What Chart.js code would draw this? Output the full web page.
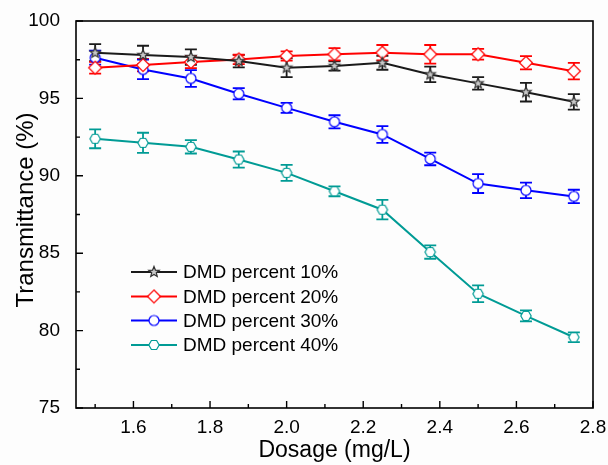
<!DOCTYPE html>
<html>
<head>
<meta charset="utf-8">
<script src="https://cdn.jsdelivr.net/npm/chart.js@4.4.1/dist/chart.umd.min.js"></script>
<style>
  body { margin: 0; background: #fdfdfd; }
  canvas { display: block; }
</style>
</head>
<body>
<canvas id="transChart" width="608" height="465"></canvas>
<script>
// Dosage (mg/L) and transmittance (%) with standard deviations
const dosage = [1.5, 1.625, 1.75, 1.875, 2.0, 2.125, 2.25, 2.375, 2.5, 2.625, 2.75];

const dmd10 = [97.95, 97.8, 97.67, 97.41, 96.98, 97.1, 97.3, 96.55, 95.97, 95.4, 94.78];
const err10 = [0.55, 0.6, 0.5, 0.4, 0.6, 0.3, 0.45, 0.5, 0.4, 0.6, 0.5];

const dmd20 = [96.98, 97.15, 97.35, 97.52, 97.74, 97.85, 97.95, 97.85, 97.85, 97.3, 96.76];
const err20 = [0.38, 0.4, 0.4, 0.3, 0.3, 0.4, 0.5, 0.6, 0.35, 0.43, 0.53];

const dmd30 = [97.63, 96.87, 96.29, 95.3, 94.39, 93.49, 92.67, 91.09, 89.5, 89.06, 88.67];
const err30 = [0.45, 0.63, 0.54, 0.36, 0.32, 0.42, 0.54, 0.41, 0.61, 0.5, 0.43];

const dmd40 = [92.39, 92.13, 91.87, 91.05, 90.19, 89.0, 87.81, 85.07, 82.38, 80.95, 79.57];
const err40 = [0.61, 0.65, 0.43, 0.52, 0.52, 0.32, 0.63, 0.43, 0.54, 0.36, 0.32];

const seriesNames = ["DMD percent 10%", "DMD percent 20%", "DMD percent 30%", "DMD percent 40%"];

const xTicks = [1.6, 1.8, 2.0, 2.2, 2.4, 2.6, 2.8];
const xMinor = [1.5, 1.7, 1.9, 2.1, 2.3, 2.5, 2.7];
const yTicks = [75, 80, 85, 90, 95, 100];
const yMinor = [77.5, 82.5, 87.5, 92.5, 97.5];

const FONT = "'Liberation Sans', Arial, sans-serif";

// small canvas markers (star / hexagon aren't built in the way we need)
function makeMarker(kind, stroke, fill) {
  const size = 16;
  const c = document.createElement("canvas");
  c.width = size;
  c.height = size;
  const g = c.getContext("2d");
  const cx = size / 2, cy = size / 2;
  g.beginPath();
  if (kind === "star") {
    for (let i = 0; i < 10; i++) {
      const r = i % 2 === 0 ? 5.5 : 2.4;
      const a = -Math.PI / 2 + i * Math.PI / 5;
      g.lineTo(cx + r * Math.cos(a), cy + r * Math.sin(a));
    }
  } else if (kind === "hex") {
    for (let i = 0; i < 6; i++) {
      const a = i * Math.PI / 3;
      g.lineTo(cx + 5.2 * Math.cos(a), cy + 5.2 * Math.sin(a));
    }
  } else if (kind === "diamond") {
    g.moveTo(cx, cy - 6.5);
    g.lineTo(cx + 6.5, cy);
    g.lineTo(cx, cy + 6.5);
    g.lineTo(cx - 6.5, cy);
  } else {
    g.arc(cx, cy, 5, 0, Math.PI * 2);
  }
  g.closePath();
  g.fillStyle = fill;
  g.fill();
  g.lineWidth = 1.2;
  g.strokeStyle = stroke;
  g.stroke();
  return c;
}

const colors = ["#1a1a1a", "#ff0000", "#0000ff", "#009b95"];
const markers = [
  makeMarker("star", "#333333", "#c8c8c8"),
  makeMarker("diamond", colors[1], "#ffffff"),
  makeMarker("circle", colors[2], "#ffffff"),
  makeMarker("hex", colors[3], "#ffffff"),
];
const values = [dmd10, dmd20, dmd30, dmd40];
const errors = [err10, err20, err30, err40];

const datasets = values.map((vals, i) => ({
  label: seriesNames[i],
  data: vals.map((v, j) => ({ x: dosage[j], y: v })),
  borderColor: colors[i],
  backgroundColor: colors[i],
  borderWidth: 2,
  pointStyle: markers[i],
  pointRadius: 6,
  pointHoverRadius: 6,
  tension: 0,
}));

// error bars, frame, inward ticks, legend and axis titles
const plotExtras = {
  id: "plotExtras",
  beforeDatasetsDraw(chart) {
    const ctx = chart.ctx;
    const xs = chart.scales.x, ys = chart.scales.y;
    ctx.save();
    ctx.lineWidth = 1.8;
    errors.forEach((errs, i) => {
      ctx.strokeStyle = colors[i];
      errs.forEach((e, j) => {
        const px = xs.getPixelForValue(dosage[j]);
        const top = ys.getPixelForValue(values[i][j] + e);
        const bot = ys.getPixelForValue(values[i][j] - e);
        ctx.beginPath();
        ctx.moveTo(px, top);
        ctx.lineTo(px, bot);
        ctx.moveTo(px - 6, top);
        ctx.lineTo(px + 6, top);
        ctx.moveTo(px - 6, bot);
        ctx.lineTo(px + 6, bot);
        ctx.stroke();
      });
    });
    ctx.restore();
  },
  afterDraw(chart) {
    const ctx = chart.ctx;
    const area = chart.chartArea;
    const xs = chart.scales.x, ys = chart.scales.y;
    ctx.save();

    // frame
    ctx.strokeStyle = "#000";
    ctx.lineWidth = 1.6;
    ctx.strokeRect(area.left, area.top, area.right - area.left, area.bottom - area.top);

    // ticks pointing into the plot
    ctx.lineWidth = 1.4;
    ctx.beginPath();
    xTicks.forEach((v) => {
      const px = xs.getPixelForValue(v);
      ctx.moveTo(px, area.bottom);
      ctx.lineTo(px, area.bottom - 7);
    });
    xMinor.forEach((v) => {
      const px = xs.getPixelForValue(v);
      ctx.moveTo(px, area.bottom);
      ctx.lineTo(px, area.bottom - 4);
    });
    yTicks.forEach((v) => {
      const py = ys.getPixelForValue(v);
      ctx.moveTo(area.left, py);
      ctx.lineTo(area.left + 7, py);
    });
    yMinor.forEach((v) => {
      const py = ys.getPixelForValue(v);
      ctx.moveTo(area.left, py);
      ctx.lineTo(area.left + 4, py);
    });
    ctx.stroke();

    // legend inside the plot
    const rowY = [272, 296.5, 320.5, 345];
    ctx.font = "19px " + FONT;
    ctx.textBaseline = "middle";
    ctx.textAlign = "left";
    seriesNames.forEach((name, i) => {
      ctx.strokeStyle = colors[i];
      ctx.lineWidth = 2;
      ctx.beginPath();
      ctx.moveTo(131, rowY[i]);
      ctx.lineTo(177, rowY[i]);
      ctx.stroke();
      const m = markers[i];
      ctx.drawImage(m, 154 - m.width / 2, rowY[i] - m.height / 2);
      ctx.fillStyle = "#000";
      ctx.fillText(name, 183, rowY[i] + 1);
    });

    // axis titles
    ctx.font = "23px " + FONT;
    ctx.textAlign = "center";
    ctx.fillText("Dosage (mg/L)", (area.left + area.right) / 2, 451);
    ctx.font = "24px " + FONT;
    ctx.translate(26, 210);
    ctx.rotate(-Math.PI / 2);
    ctx.fillText("Transmittance (%)", 0, 0);
    ctx.restore();
  },
};

new Chart(document.getElementById("transChart"), {
  type: "line",
  data: { datasets },
  options: {
    responsive: false,
    animation: false,
    devicePixelRatio: 1,
    layout: { padding: { top: 21, right: 15, left: 0, bottom: 0 } },
    plugins: {
      legend: { display: false },
      tooltip: { enabled: false },
    },
    scales: {
      x: {
        type: "linear",
        min: 1.45,
        max: 2.8,
        afterBuildTicks: (scale) => {
          scale.ticks = xTicks.map((v) => ({ value: v }));
        },
        afterFit: (scale) => {
          scale.height = 57;
        },
        grid: { display: false },
        border: { display: false },
        ticks: {
          color: "#000",
          padding: 0,
          font: { family: FONT, size: 19 },
          callback: (v) => v.toFixed(1),
        },
      },
      y: {
        min: 75,
        max: 100,
        afterBuildTicks: (scale) => {
          scale.ticks = yTicks.map((v) => ({ value: v }));
        },
        afterFit: (scale) => {
          scale.width = 76;
        },
        grid: { display: false },
        border: { display: false },
        ticks: {
          color: "#000",
          padding: 8,
          font: { family: FONT, size: 19 },
        },
      },
    },
  },
  plugins: [plotExtras],
});
</script>
</body>
</html>
